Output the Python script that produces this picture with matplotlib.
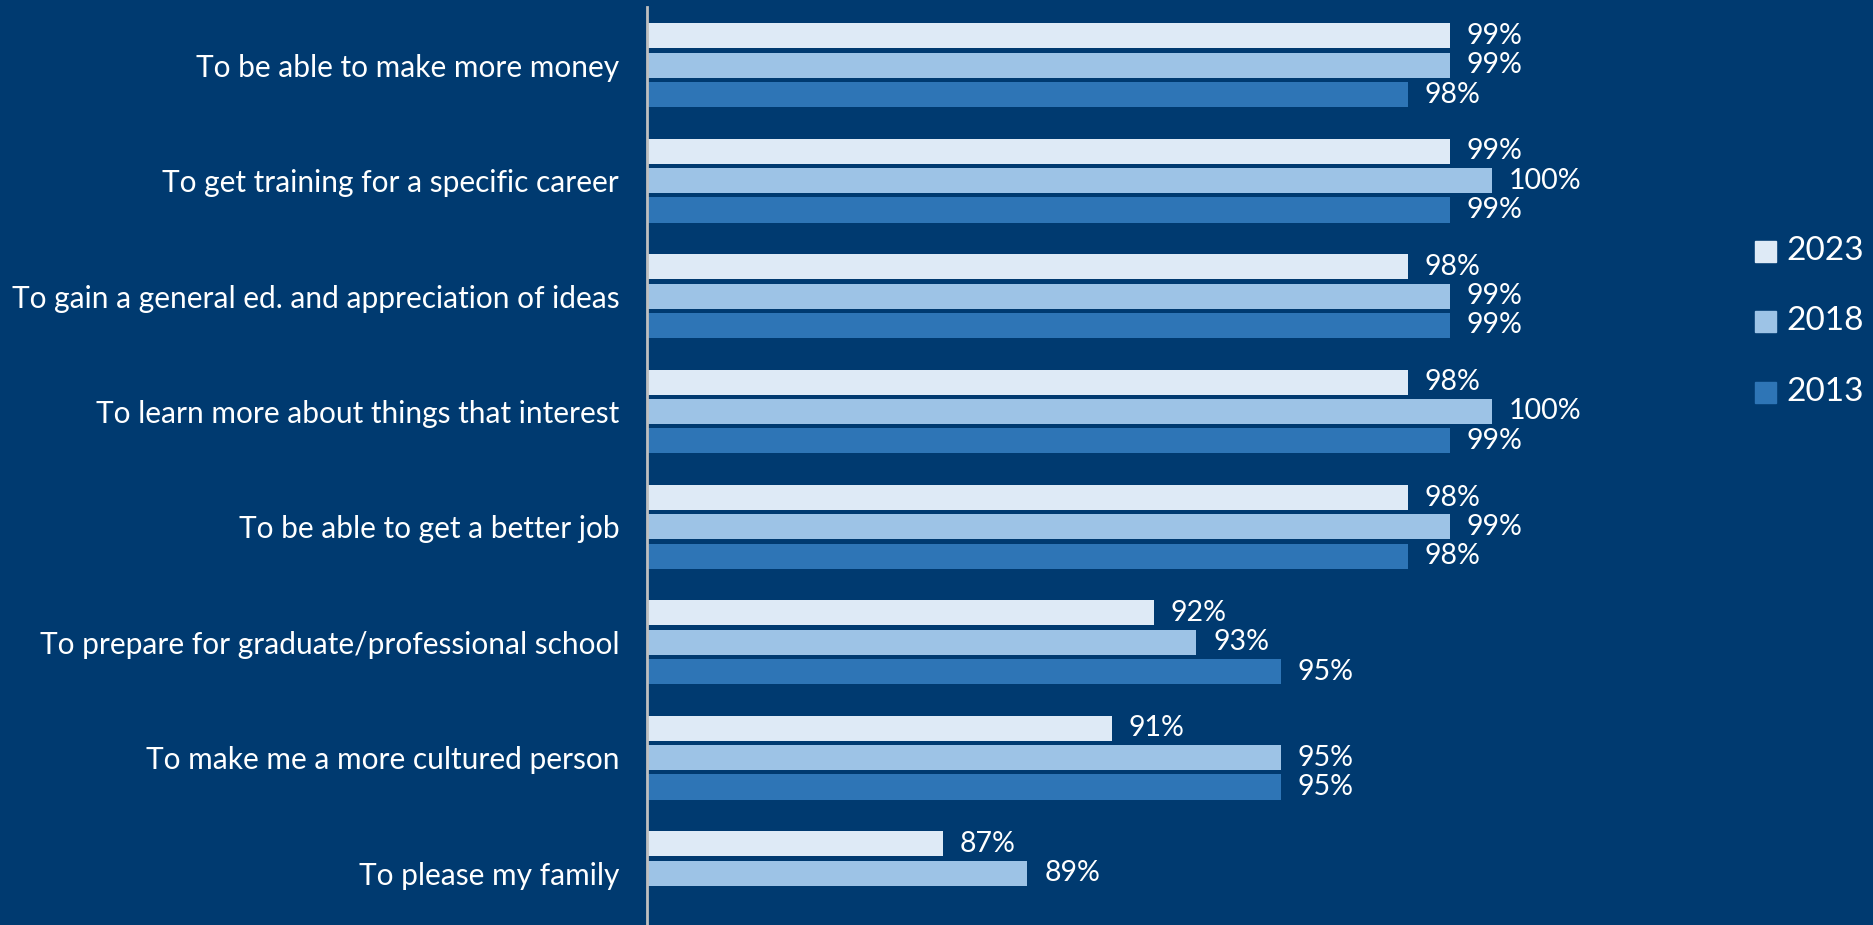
import numpy as np
import matplotlib.pyplot as plt
from matplotlib.patches import Rectangle

plt.rcParams['font.family'] = ['Lato', 'DejaVu Sans']

categories = [
    "To be able to make more money",
    "To get training for a specific career",
    "To gain a general ed. and appreciation of ideas",
    "To learn more about things that interest",
    "To be able to get a better job",
    "To prepare for graduate/professional school",
    "To make me a more cultured person",
    "To please my family",
]
years = ["2023", "2018", "2013"]
v2023 = [99, 99, 98, 98, 98, 92, 91, 87]
v2018 = [99, 100, 99, 100, 99, 93, 95, 89]
v2013 = [98, 99, 99, 99, 98, 95, 95, np.nan]

colors = ["#DEEAF6", "#9DC3E6", "#2E75B6"]
bg = "#003A70"

W, H = 1873, 925
fig = plt.figure(figsize=(W / 100, H / 100), dpi=100, facecolor=bg)
ax = fig.add_axes([647 / W, 0, (1492 - 647) / W, (925 - 7) / H])
ax.set_facecolor(bg)

y = np.arange(len(categories))
off = 0.254
h = 0.217
for j, vals in enumerate([v2023, v2018, v2013]):
    pos = y + (j - 1) * off
    ax.barh(pos, vals, height=h, color=colors[j], left=0)
    for p, v in zip(pos, vals):
        if np.isnan(v):
            continue
        ax.text(v + 0.4, p, f"{v:.0f}%", va="center", ha="left",
                color="white", fontsize=20.5, clip_on=False)

ax.set_xlim(80, 100)
ax.set_ylim(7.45, -0.505)
ax.set_yticks(y)
ax.set_yticklabels(categories, color="white", fontsize=21.5)
ax.tick_params(axis="y", length=0, pad=20)
ax.set_xticks([])
for s in ["top", "right", "bottom"]:
    ax.spines[s].set_visible(False)
ax.spines["left"].set_color("#BFBFBF")
ax.spines["left"].set_linewidth(2)

# legend
for i, (yr, c) in enumerate(zip(years, colors)):
    yc = [251, 321, 392][i]
    fig.patches.append(Rectangle((1755 / W, 1 - (yc + 11) / H), 21 / W, 21 / H,
                                 transform=fig.transFigure, color=c))
    fig.text(1786 / W, 1 - yc / H, yr, color="white", fontsize=24,
             va="center", ha="left")

fig.savefig("out.png", dpi=100, facecolor=bg)
